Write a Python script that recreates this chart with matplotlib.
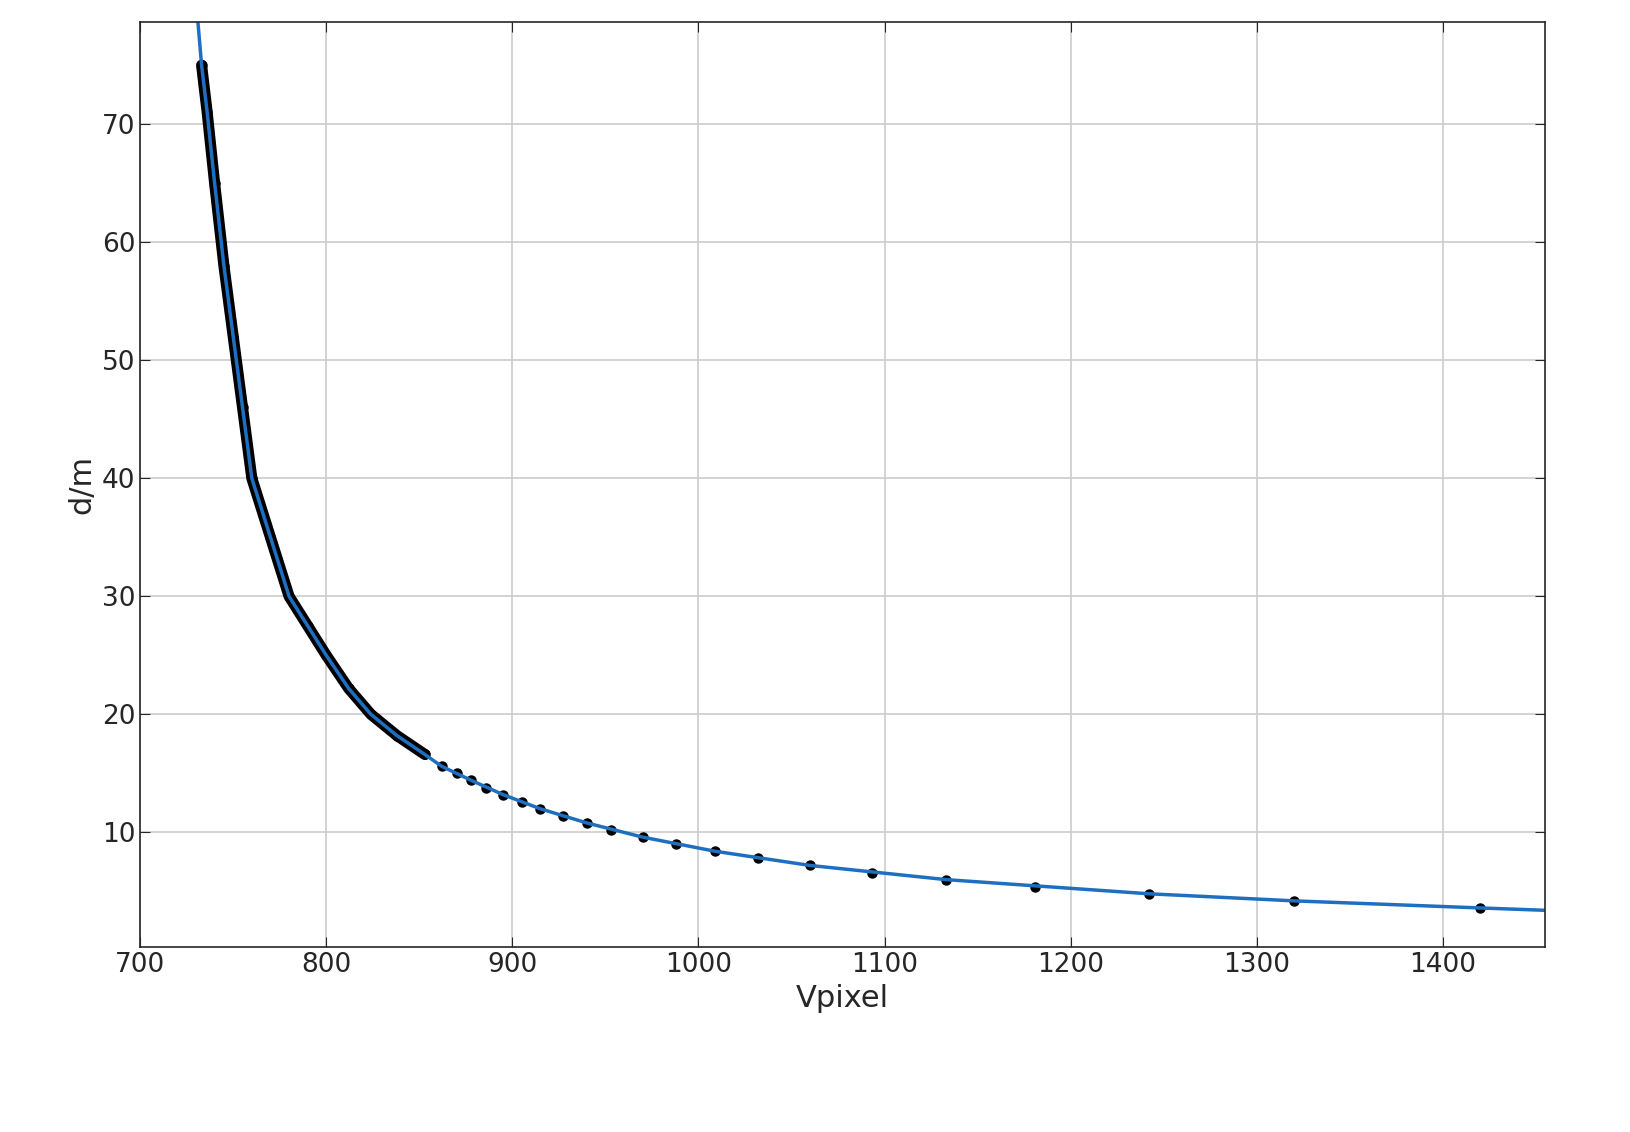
import matplotlib
matplotlib.use("Agg")
import matplotlib.pyplot as plt

# measured points (Vpixel, d)
v_pts = [733, 736, 740, 745, 750, 755, 760, 770, 780, 790, 800, 812, 824, 838, 853,
         862, 870, 878, 886, 895, 905, 915, 927, 940, 953, 970, 988, 1009, 1032,
         1060, 1093, 1133, 1181, 1242, 1320, 1420]
d_pts = [75, 71, 65, 58, 52, 46, 40, 35, 30, 27.5, 25, 22.2, 20, 18.2, 16.6,
         15.6, 15.0, 14.4, 13.8, 13.2, 12.6, 12.0, 11.4, 10.8, 10.2, 9.6, 9.0, 8.4, 7.8,
         7.2, 6.6, 6.0, 5.4, 4.8, 4.2, 3.6]
# fitted curve
v_fit = [731, 733, 736, 740, 745, 750, 755, 760, 770, 780, 790, 800, 812, 824, 838, 853,
         862, 878, 895, 915, 940, 970, 1009, 1060, 1133, 1242, 1320, 1420, 1455]
d_fit = [78.7, 75, 71, 65, 58, 52, 46, 40, 35, 30, 27.5, 25, 22.2, 20, 18.2, 16.6,
         15.6, 14.4, 13.2, 12.0, 10.8, 9.6, 8.4, 7.2, 6.0, 4.8, 4.2, 3.6, 3.4]
xticks = [700, 800, 900, 1000, 1100, 1200, 1300, 1400]
yticks = [10, 20, 30, 40, 50, 60, 70]

fig = plt.figure(figsize=(16.3, 11.32), dpi=100)
ax = fig.add_axes([0.086, 0.163, 0.862, 0.818])
dense = [i for i, d in enumerate(d_pts) if d > 16]
ax.plot([v_pts[i] for i in dense], [d_pts[i] for i in dense], color='black', lw=8, solid_capstyle='round')
ax.plot(v_pts, d_pts, 'o', color='black', ms=6.5)
ax.plot(v_fit, d_fit, color='#1f6fc0', lw=2.5)
ax.set_xlim(700, 1455)
ax.set_ylim(0.25, 78.7)
ax.set_xticks(xticks)
ax.set_yticks(yticks)
ax.grid(True, color='#cccccc', lw=1.2)
ax.tick_params(direction='in', labelsize=19, colors='#262626', length=7, top=True, right=True)
for s in ax.spines.values():
    s.set_color('#262626'); s.set_linewidth(1.2)
ax.set_xlabel('Vpixel', fontsize=22, color='#262626')
ax.set_ylabel('d/m', fontsize=22, color='#262626')
fig.savefig('out.png')
